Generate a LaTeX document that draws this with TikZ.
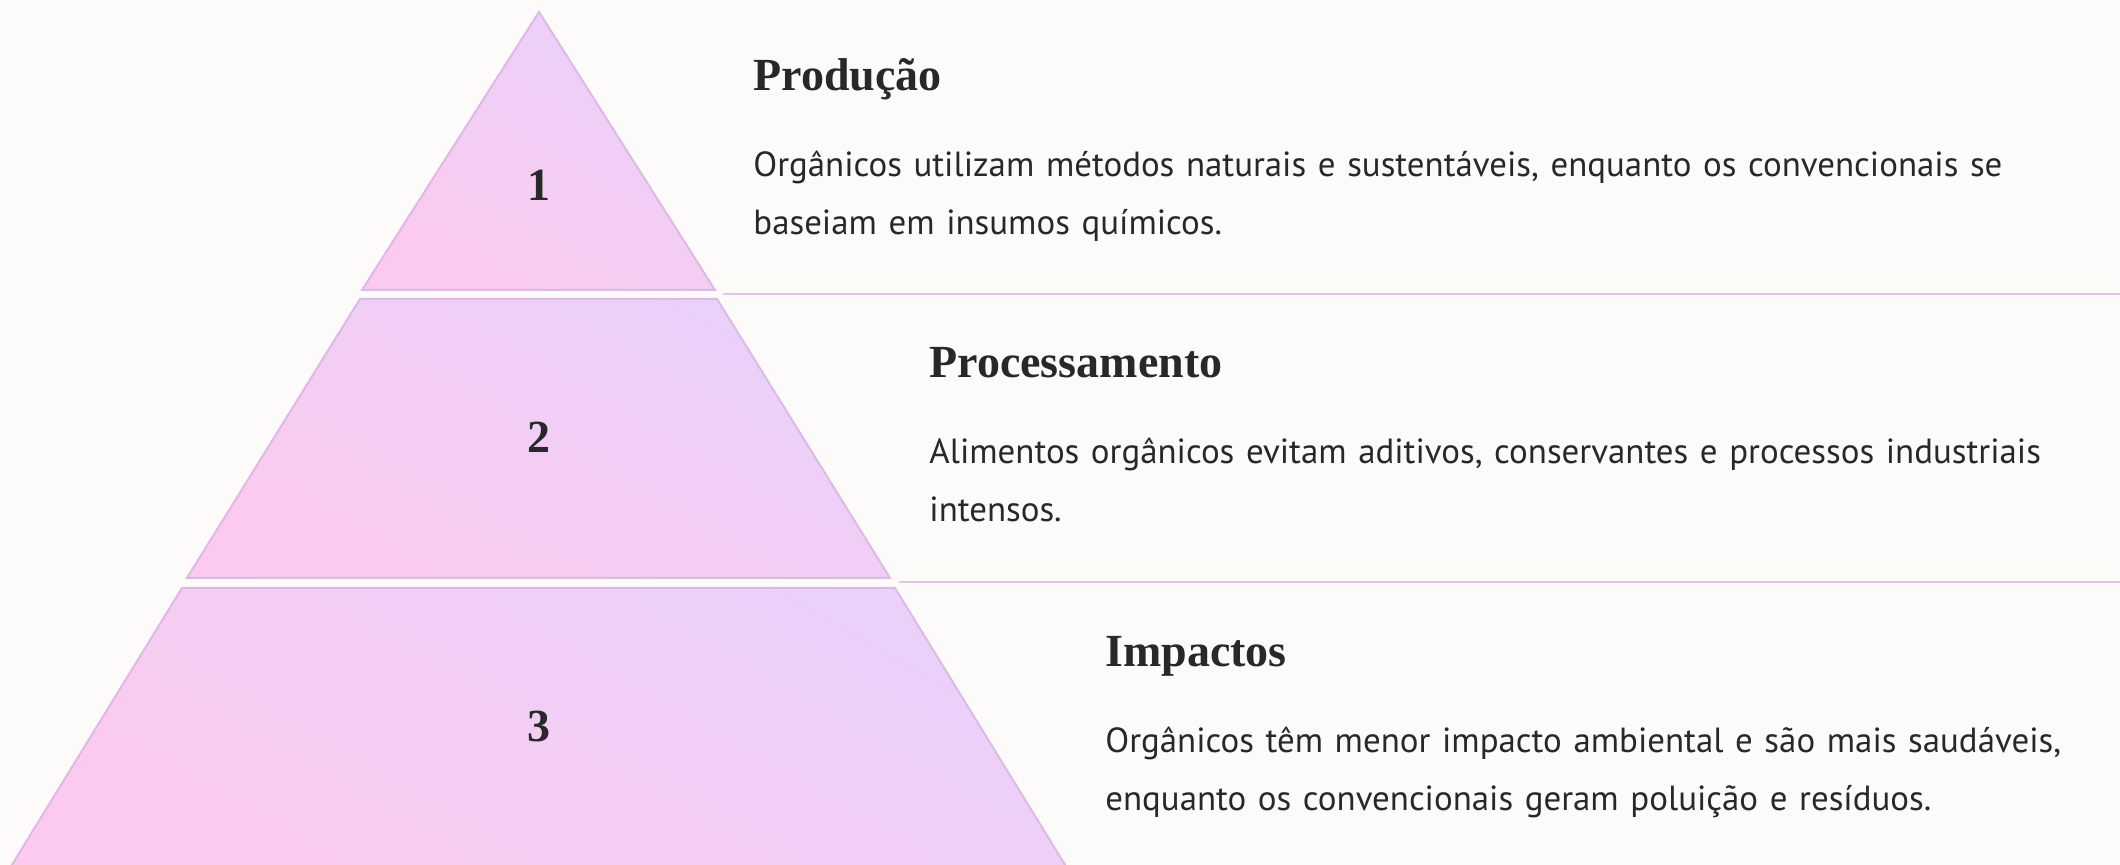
\documentclass[tikz,border=0pt]{standalone}
\usepackage{fontspec}
\setmainfont{Liberation Serif}
\newfontfamily\bodyfont{PT Sans}
\usetikzlibrary{positioning}
\definecolor{tierpink}{RGB}{252,202,238}
\definecolor{tierlav}{RGB}{233,209,250}
\definecolor{tieredge}{RGB}{220,186,228}
\definecolor{rulecol}{RGB}{226,196,236}
\definecolor{bgcol}{RGB}{253,251,250}
\definecolor{ink}{RGB}{40,40,40}
\begin{document}
\begin{tikzpicture}[x=0.5pt, y=-0.5pt,
  tier/.style={draw=tieredge, line width=1pt, top color=tierlav, bottom color=tierpink, shading angle=-30},
  num/.style={font=\fontsize{23}{23}\selectfont\bfseries, text=ink},
  heading/.style={anchor=base west, inner sep=0pt, font=\fontsize{23}{23}\selectfont\bfseries, text=ink},
  body/.style={anchor=base west, inner sep=0pt, text width=700pt, align=left, font=\bodyfont\fontsize{17.45}{29}\selectfont, text=ink},
  sep/.style={draw=rulecol, line width=1pt}]

\fill[bgcol] (0,0) rectangle (2120,865);
\clip (0,0) rectangle (2120,865);

% pyramid
\path[tier] (539,12) -- (715,290) -- (362,290) -- cycle;
\path[tier] (360,299) -- (717,299) -- (890,578) -- (187,578) -- cycle;
\path[tier] (182,588) -- (895,588) -- (1067,868) -- (10,868) -- cycle;

\node[num] (n1) at (539,185) {1};
\node[num] (n2) at (539,437) {2};
\node[num] (n3) at (539,726) {3};

% rules
\coordinate (r1a) at (723,294);
\coordinate (r1b) at (2120,294);
\coordinate (r2a) at (899,582);
\coordinate (r2b) at (2120,582);
\draw[sep] (r1a) -- (r1b);
\draw[sep] (r2a) -- (r2b);

% texts
\node[heading] (h1) at (753,91) {Produção};
\node[body] (b1) at (753,177) {Orgânicos utilizam métodos naturais e sustentáveis, enquanto os convencionais se\\baseiam em insumos químicos.};

\node[heading] (h2) at (929,378) {Processamento};
\node[body] (b2) at (929,464) {Alimentos orgânicos evitam aditivos, conservantes e processos industriais\\intensos.};

\node[heading] (h3) at (1105,667) {Impactos};
\node[body] (b3) at (1105,752) {Orgânicos têm menor impacto ambiental e são mais saudáveis,\\enquanto os convencionais geram poluição e resíduos.};
\end{tikzpicture}
\end{document}
